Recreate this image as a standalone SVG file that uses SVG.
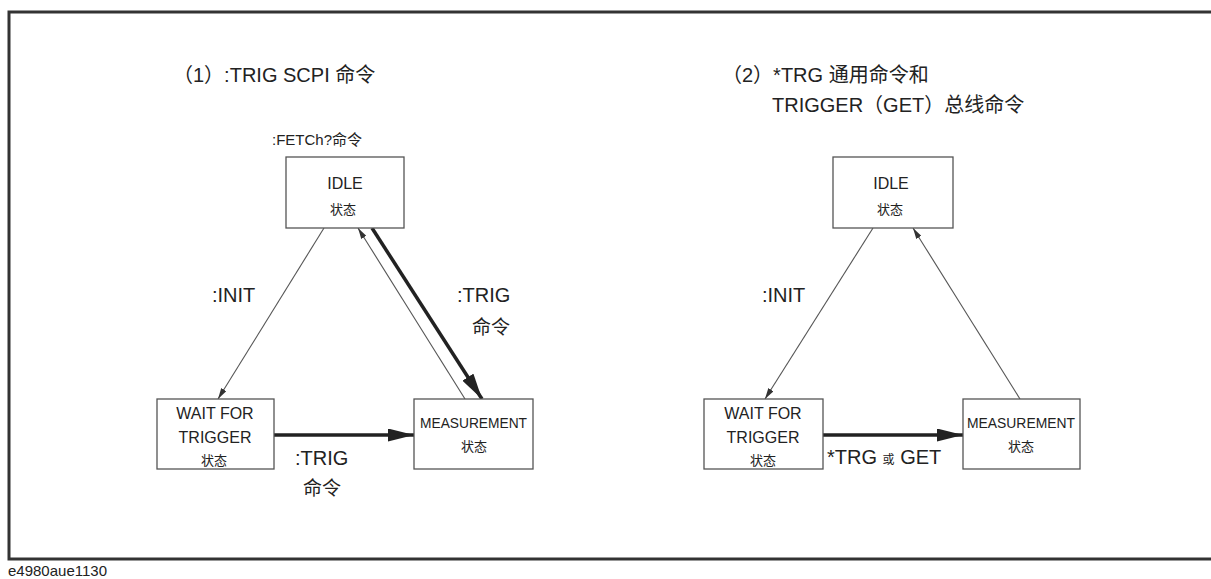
<svg xmlns="http://www.w3.org/2000/svg" width="1211" height="579" viewBox="0 0 1211 579">
<style>
.t{font-family:"Liberation Sans","Noto Sans CJK SC",sans-serif;fill:#222}
.big{font-size:20px}
.box{font-size:16px}
.st{font-size:13px}
.node rect{fill:#fff;stroke:#555;stroke-width:1.3}
.thin{stroke:#555;stroke-width:1.1;fill:none}
.thick{stroke:#222;stroke-width:3.5;fill:none}
</style>
<defs>
<marker id="ah" markerUnits="userSpaceOnUse" markerWidth="26" markerHeight="13" refX="26" refY="6.5" orient="auto">
<path d="M0,0 L26,6.5 L0,13 z" fill="#222"/>
</marker>
<marker id="as" markerUnits="userSpaceOnUse" markerWidth="11" markerHeight="6" refX="11" refY="3" orient="auto">
<path d="M0,0 L11,3 L0,6 z" fill="#333"/>
</marker>
</defs>
<rect width="1211" height="579" fill="#fff"/>
<rect x="9" y="12" width="1220" height="547" fill="none" stroke="#333" stroke-width="3"/>
<text class="t" x="8" y="576" font-size="15">e4980aue1130</text>

<text class="t big" x="173" y="82">（1）:TRIG SCPI 命令</text>
<text class="t big" x="722" y="82">（2）*TRG 通用命令和</text>
<text class="t big" x="772" y="112">TRIGGER（GET）总线命令</text>
<text class="t" x="272" y="145" font-size="15">:FETCh?命令</text>

<g id="connectors">
<line class="thin" x1="324" y1="228" x2="218" y2="399" marker-end="url(#as)"/>
<line class="thin" x1="465" y1="399" x2="358" y2="228" marker-end="url(#as)"/>
<line class="thick" x1="372" y1="228" x2="482" y2="399" marker-end="url(#ah)"/>
<line class="thick" x1="274" y1="435" x2="414" y2="435" marker-end="url(#ah)"/>
<line class="thin" x1="873" y1="228" x2="765" y2="399" marker-end="url(#as)"/>
<line class="thin" x1="1020" y1="399" x2="913" y2="228" marker-end="url(#as)"/>
<line class="thick" x1="823" y1="435" x2="963" y2="435" marker-end="url(#ah)"/>
<text class="t big" x="212" y="302">:INIT</text>
<text class="t big" x="457" y="302">:TRIG</text>
<text class="t" x="491" y="334" font-size="19" text-anchor="middle">命令</text>
<text class="t big" x="295" y="465">:TRIG</text>
<text class="t" x="322" y="495" font-size="19" text-anchor="middle">命令</text>
<text class="t big" x="762" y="302">:INIT</text>
<text class="t big" x="827" y="464">*TRG <tspan font-size="12">或</tspan> GET</text>
</g>

<g id="idle1" class="node">
<rect x="286" y="157" width="118" height="71"/>
<text class="t box" x="345" y="189" text-anchor="middle">IDLE</text>
<text class="t st" x="343" y="214" text-anchor="middle">状态</text>
</g>
<g id="wait1" class="node">
<rect x="157" y="399" width="117" height="70"/>
<text class="t box" x="215" y="419" text-anchor="middle">WAIT FOR</text>
<text class="t box" x="215" y="443" text-anchor="middle">TRIGGER</text>
<text class="t st" x="214" y="465" text-anchor="middle">状态</text>
</g>
<g id="meas1" class="node">
<rect x="414" y="399" width="119" height="70"/>
<text class="t" x="420" y="428" font-size="14" textLength="107" lengthAdjust="spacingAndGlyphs">MEASUREMENT</text>
<text class="t st" x="474" y="451" text-anchor="middle">状态</text>
</g>

<g id="idle2" class="node">
<rect x="833" y="157" width="120" height="71"/>
<text class="t box" x="891" y="189" text-anchor="middle">IDLE</text>
<text class="t st" x="890" y="214" text-anchor="middle">状态</text>
</g>
<g id="wait2" class="node">
<rect x="704" y="399" width="119" height="70"/>
<text class="t box" x="763" y="419" text-anchor="middle">WAIT FOR</text>
<text class="t box" x="763" y="443" text-anchor="middle">TRIGGER</text>
<text class="t st" x="763" y="465" text-anchor="middle">状态</text>
</g>
<g id="meas2" class="node">
<rect x="963" y="399" width="117" height="70"/>
<text class="t" x="967" y="428" font-size="14" textLength="108" lengthAdjust="spacingAndGlyphs">MEASUREMENT</text>
<text class="t st" x="1021" y="451" text-anchor="middle">状态</text>
</g>
</svg>
